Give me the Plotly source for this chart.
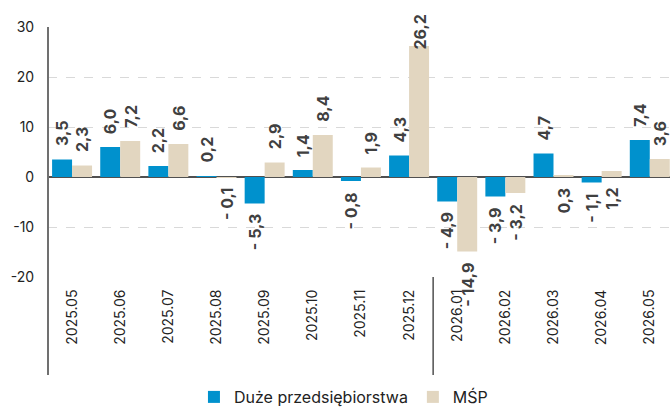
import plotly.graph_objects as go

categories = ["2025.05", "2025.06", "2025.07", "2025.08", "2025.09", "2025.10", "2025.11",
              "2025.12", "2026.01", "2026.02", "2026.03", "2026.04", "2026.05"]
duze = [3.5, 6.0, 2.2, 0.2, -5.3, 1.4, -0.8, 4.3, -4.9, -3.9, 4.7, -1.1, 7.4]
msp = [2.3, 7.2, 6.6, -0.1, 2.9, 8.4, 1.9, 26.2, -14.9, -3.2, 0.3, 1.2, 3.6]
y_ticks = [-20, -10, 0, 10, 20, 30]
y_tick_text = ["-20", "-10", "0", "10", "20", "30"]

# labels drawn under the zero line in the original for these months (MŚP)
msp_labels_below = {"2026.03", "2026.04"}

BLUE = "#0091CD"
BEIGE = "#E2D6C0"
FONT = "Inter"
Y_MAX = 30

fig = go.Figure()
fig.add_trace(go.Bar(x=categories, y=duze, name="Duże przedsiębiorstwa",
                     marker=dict(color=BLUE, line=dict(width=0))))
fig.add_trace(go.Bar(x=categories, y=msp, name="MŚP",
                     marker=dict(color=BEIGE, line=dict(width=0))))


def fmt(v):
    s = f"{abs(v):.1f}".replace(".", ",")
    return ("- " + s) if v < 0 else s


annotations = []
for series, shift, below_set in ((duze, -10, set()), (msp, 10, msp_labels_below)):
    for i, (cat, v) in enumerate(zip(categories, series)):
        below = v < 0 or cat in below_set
        if below:
            y, anchor, ysh = min(v, 0), "top", -9
        else:
            y, anchor, ysh = v, "bottom", 11
            # long labels near the top: pin them just above the axis top
            if v + 2.2 + 7.4 > Y_MAX + 2.8:
                y, anchor, ysh = Y_MAX, "top", 14
        annotations.append(dict(x=i, y=y, xref="x", yref="y", xshift=shift, yshift=ysh,
                                yanchor=anchor, xanchor="center",
                                text="<b>" + fmt(v) + "</b>", textangle=-90,
                                showarrow=False,
                                font=dict(family=FONT, size=16, color="#404040")))

shapes = [
    dict(type="line", xref="paper", yref="paper", x0=0, x1=0, y0=1, y1=-0.392,
         line=dict(color="#707070", width=2)),
    dict(type="line", xref="x", yref="paper", x0=7.5, x1=7.5, y0=0, y1=-0.392,
         line=dict(color="#505050", width=1.5)),
]

fig.update_layout(
    width=670, height=408,
    margin=dict(l=48, r=0, t=27, b=131, autoexpand=False),
    paper_bgcolor="white", plot_bgcolor="white",
    barmode="group", bargap=0.17, bargroupgap=0,
    font=dict(family=FONT, color="#222222"),
    annotations=annotations,
    shapes=shapes,
    legend=dict(orientation="h", x=0.475, xanchor="center", y=-0.48, yanchor="middle",
                font=dict(family=FONT, size=16, color="#222222")),
    xaxis=dict(type="category", range=[-0.5, 12.42], tickangle=-90,
               tickfont=dict(family=FONT, size=14, color="#222222"),
               showgrid=False, showline=False, ticks="outside", ticklen=6,
               tickcolor="rgba(0,0,0,0)"),
    yaxis=dict(range=[-20, Y_MAX], tickvals=y_ticks, ticktext=y_tick_text,
               ticks="outside", ticklen=10, tickcolor="rgba(0,0,0,0)",
               tickfont=dict(family=FONT, size=14, color="#222222"),
               showgrid=True, gridcolor="#D9D9D9", griddash="dash", gridwidth=1,
               zeroline=True, zerolinecolor="#505050", zerolinewidth=2,
               showline=False),
)

fig.write_html("out.html", config={"displayModeBar": False},
               post_script="document.body.style.margin='0';")
